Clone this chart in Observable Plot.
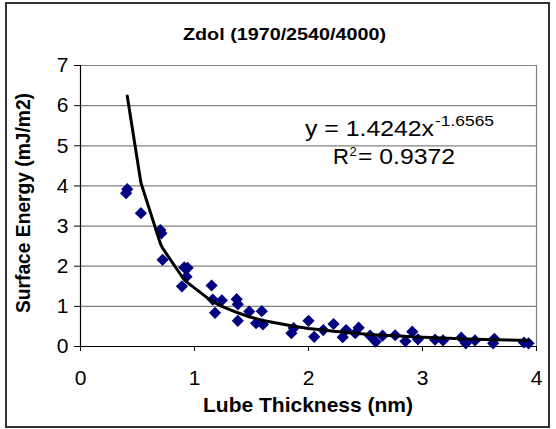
<!DOCTYPE html>
<html><head><meta charset="utf-8">
<script src="https://cdn.jsdelivr.net/npm/d3@7"></script>
<script src="https://cdn.jsdelivr.net/npm/@observablehq/plot@0.6"></script>
<style>
body{margin:0;background:#fff}
#wrap{position:relative;width:556px;height:429px;overflow:hidden}
#border{position:absolute;box-sizing:border-box;left:5px;top:2px;width:545px;height:426px;border:2px solid #333;pointer-events:none}
</style>
</head><body><div id="wrap"><div id="border"></div></div>
<script>
// Measured points
const thickness = [0.40,0.41,0.53,0.70,0.71,0.72,0.89,0.91,0.93,0.94,1.15,1.16,1.18,1.24,1.37,1.38,1.38,1.48,1.54,1.59,1.60,1.85,1.87,2.00,2.05,2.13,2.22,2.30,2.33,2.41,2.44,2.54,2.59,2.65,2.76,2.85,2.91,2.96,3.11,3.18,3.34,3.38,3.46,3.62,3.63,3.89,3.93];
const energy    = [3.82,3.92,3.32,2.90,2.82,2.16,1.50,1.97,1.74,1.96,1.52,1.17,0.84,1.15,1.18,1.05,0.64,0.87,0.58,0.88,0.55,0.33,0.46,0.64,0.24,0.41,0.56,0.23,0.41,0.33,0.47,0.27,0.12,0.27,0.28,0.13,0.37,0.18,0.17,0.15,0.22,0.08,0.15,0.08,0.19,0.10,0.08];
// Power trendline as drawn
const fitX = [0.41,0.53,0.70,0.72,0.90,0.93,1.15,1.24,1.38,1.48,1.60,1.86,2.00,2.13,2.22,2.30,2.41,2.54,2.65,2.76,2.91,3.11,3.34,3.46,3.63,3.93];
const fitY = [6.24,4.08,2.57,2.45,1.70,1.61,1.13,1.00,0.84,0.74,0.65,0.51,0.45,0.41,0.38,0.36,0.33,0.30,0.28,0.27,0.24,0.22,0.19,0.18,0.17,0.15];
const xTicks = [0,1,2,3,4];
const yTicks = [0,1,2,3,4,5,6,7];
const titleText = "Zdol (1970/2540/4000)";
const xLabel = "Lube Thickness (nm)";
const yLabel = "Surface Energy (mJ/m2)";
const eqMain = "y = 1.4242x";
const eqExp = "-1.6565";
const r2Main = "R";
const r2Sup = "2";
const r2Value = "= 0.9372";

const points = thickness.map((x, i) => ({x, y: energy[i]}));
const fit = fitX.map((x, i) => ({x, y: fitY[i]}));

const chart = Plot.plot({
  width: 556, height: 429,
  marginLeft: 80, marginRight: 20, marginTop: 65, marginBottom: 83,
  style: {fontFamily: "'Liberation Sans', Arial, sans-serif", fontSize: "21px", color: "#000", background: "transparent", overflow: "visible"},
  x: {domain: [0, 4]},
  y: {domain: [0, 7]},
  marks: [
    Plot.gridY(yTicks, {stroke: "#808080", strokeOpacity: 1, strokeWidth: 1.2}),
    Plot.ruleX([4], {stroke: "#808080", strokeWidth: 1.2}),
    Plot.axisY(yTicks, {tickSize: 6, tickPadding: 6, label: null, fontSize: 21, tickFormat: d => String(d)}),
    Plot.axisX(xTicks, {tickSize: 5, tickPadding: 19, label: null, fontSize: 21, tickFormat: d => String(d)}),
    Plot.ruleY([0], {stroke: "#000", strokeWidth: 1.2}),
    Plot.ruleX([0], {stroke: "#000", strokeWidth: 1.2}),
    Plot.dot(points, {x: "x", y: "y", symbol: "diamond2", r: 5.5, fill: "#000080", stroke: "none"}),
    Plot.line(fit, {x: "x", y: "y", stroke: "#000", strokeWidth: 3})
  ]
});
document.getElementById("wrap").prepend(chart);

const svg = d3.select(chart);
const ff = "'Liberation Sans', Arial, sans-serif";
function txt(s, x, y, size, opts = {}) {
  const t = svg.append("text").attr("x", x).attr("y", y).attr("font-size", size)
    .attr("font-family", ff).attr("fill", "#000")
    .attr("text-anchor", opts.anchor || "start").text(s);
  if (opts.bold) t.attr("font-weight", "bold");
  if (opts.len) t.attr("textLength", opts.len).attr("lengthAdjust", "spacingAndGlyphs");
  if (opts.transform) t.attr("transform", opts.transform);
  return t;
}
txt(titleText, 284.5, 39.5, 17, {bold: true, anchor: "middle", len: 203});
txt(xLabel, 308, 412, 21, {bold: true, anchor: "middle", len: 210});
txt(yLabel, 0, 0, 20, {bold: true, anchor: "middle", len: 220, transform: "translate(30,203) rotate(-90)"});
txt(eqMain, 305, 136, 22, {len: 129});
txt(eqExp, 435, 126, 15, {len: 59});
txt(r2Main, 333, 164, 22);
txt(r2Sup, 349.5, 156, 13);
txt(r2Value, 358, 164, 22, {len: 97});
</script>
</body></html>
